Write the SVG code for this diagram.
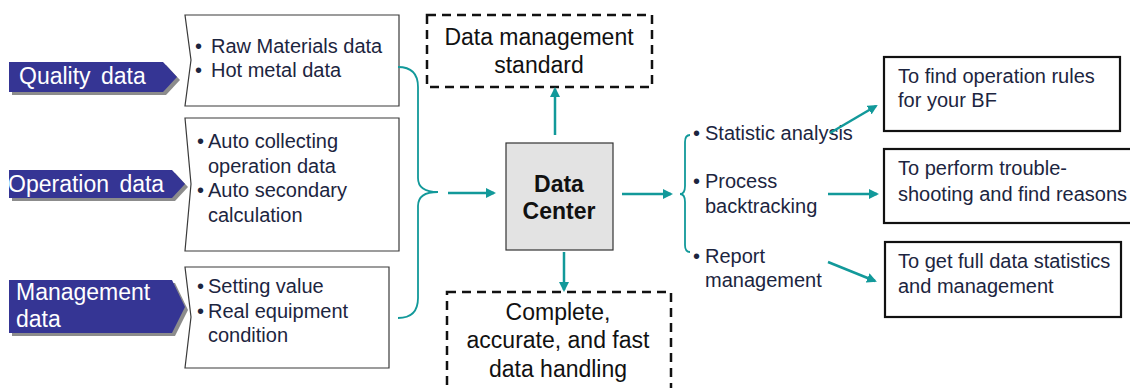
<svg xmlns="http://www.w3.org/2000/svg" width="1130" height="388" viewBox="0 0 1130 388">
<style>
text{font-family:"Liberation Sans",Arial,sans-serif;}
.tag{fill:#353594;}
.shadow{fill:#8c8c8c;}
.tagtxt{fill:#ffffff;font-size:23px;word-spacing:4px;}
.lbox{fill:#ffffff;stroke:#3a3a3a;stroke-width:1.2;}
.ltxt{fill:#1c2540;font-size:20px;}
.dash{fill:#ffffff;stroke:#111111;stroke-width:2.5;stroke-dasharray:9 6;}
.dtxt{fill:#111111;font-size:23px;text-anchor:middle;}
.rbox{fill:#ffffff;stroke:#111111;stroke-width:2.2;}
.rtxt{fill:#1c2540;font-size:20px;}
.con{fill:none;stroke:#12999a;stroke-width:2.5;}
.brace{fill:none;stroke:#12999a;stroke-width:1.8;}
</style>
<defs>
<marker id="ah" viewBox="0 0 10 10" refX="8" refY="5" markerWidth="4" markerHeight="4" orient="auto" markerUnits="strokeWidth">
<path d="M0,0 L10,5 L0,10 Z" fill="#12999a"/>
</marker>
</defs>

<g id="quality-data">
<polygon class="shadow" points="12,65 166,65 180,80 166,95 12,95"/>
<polygon class="tag" points="9,62 163,62 177,77 163,92 9,92"/>
<text class="tagtxt" x="19" y="84">Quality data</text>
</g>
<g id="operation-data">
<polygon class="shadow" points="12,173 175,173 188,187 175,201 12,201"/>
<polygon class="tag" points="9,170 172,170 185,184 172,198 9,198"/>
<text class="tagtxt" x="8" y="192">Operation data</text>
</g>
<g id="management-data">
<polygon class="shadow" points="12,283 175,283 188,310 175,336 12,336"/>
<polygon class="tag" points="9,280 172,280 185,307 172,333 9,333"/>
<text class="tagtxt" x="16" y="300">Management</text>
<text class="tagtxt" x="16" y="327">data</text>
</g>

<g id="quality-items">
<path class="lbox" d="M185,15 H399 V106 H185 L191,60 Z"/>
<text class="ltxt" x="195" y="53">•</text>
<text class="ltxt" x="211" y="53">Raw Materials data</text>
<text class="ltxt" x="195" y="77">•</text>
<text class="ltxt" x="211" y="77">Hot metal data</text>
</g>
<g id="operation-items">
<path class="lbox" d="M185,118 H399 V251 H185 L191,184 Z"/>
<text class="ltxt" x="197" y="148">•</text>
<text class="ltxt" x="208" y="148">Auto collecting</text>
<text class="ltxt" x="208" y="173">operation data</text>
<text class="ltxt" x="197" y="197">•</text>
<text class="ltxt" x="208" y="197">Auto secondary</text>
<text class="ltxt" x="208" y="222">calculation</text>
</g>
<g id="management-items">
<path class="lbox" d="M185,267 H389 V368 H185 L191,317 Z"/>
<text class="ltxt" x="197" y="293">•</text>
<text class="ltxt" x="208" y="293">Setting value</text>
<text class="ltxt" x="197" y="318">•</text>
<text class="ltxt" x="208" y="318">Real equipment</text>
<text class="ltxt" x="208" y="342">condition</text>
</g>

<g id="data-center">
<rect x="506" y="143" width="107" height="107" fill="#e3e3e3" stroke="#333333" stroke-width="1.2"/>
<text x="559" y="192" font-size="23" font-weight="bold" text-anchor="middle" fill="#111">Data</text>
<text x="559" y="219" font-size="23" font-weight="bold" text-anchor="middle" fill="#111">Center</text>
</g>

<g id="standard">
<rect class="dash" x="427" y="15" width="225" height="72"/>
<text class="dtxt" x="539" y="45">Data management</text>
<text class="dtxt" x="539" y="73">standard</text>
</g>

<g id="handling">
<rect class="dash" x="447" y="292" width="224" height="100"/>
<text class="dtxt" x="558" y="320">Complete,</text>
<text class="dtxt" x="558" y="348">accurate, and fast</text>
<text class="dtxt" x="558" y="377">data handling</text>
</g>

<g id="functions">
<text class="ltxt" x="693" y="140">•</text>
<text class="ltxt" x="705" y="140">Statistic analysis</text>
<text class="ltxt" x="693" y="188">•</text>
<text class="ltxt" x="705" y="188">Process</text>
<text class="ltxt" x="705" y="213">backtracking</text>
<text class="ltxt" x="693" y="263">•</text>
<text class="ltxt" x="705" y="263">Report</text>
<text class="ltxt" x="705" y="287">management</text>
</g>

<g id="rules">
<rect class="rbox" x="884" y="57" width="236" height="74"/>
<text class="rtxt" x="898" y="83">To find operation rules</text>
<text class="rtxt" x="898" y="107">for your BF</text>
</g>
<g id="troubleshooting">
<rect class="rbox" x="884" y="149" width="250" height="74"/>
<text class="rtxt" x="898" y="175">To perform trouble-</text>
<text class="rtxt" x="898" y="201">shooting and find reasons</text>
</g>
<g id="statistics">
<rect class="rbox" x="885" y="242" width="236" height="75"/>
<text class="rtxt" x="898" y="268">To get full data statistics</text>
<text class="rtxt" x="898" y="293">and management</text>
</g>

<g id="connectors">
<path class="brace" d="M398,67 Q418,67 418,87 V178 Q418,192 438,192 Q418,192 418,206 V298 Q418,318 398,318"/>
<path class="con" d="M448,193 H494" marker-end="url(#ah)"/>
<path class="con" d="M555,135 V89" marker-end="url(#ah)"/>
<path class="con" d="M564,252 V290" marker-end="url(#ah)"/>
<path class="con" d="M622,194 H671" marker-end="url(#ah)"/>
<path class="brace" d="M690,135 Q685,135 685,142 V186 Q685,194 680,194 Q685,194 685,202 V245 Q685,252 690,252"/>
<path class="con" d="M830,133 L876,106" marker-end="url(#ah)"/>
<path class="con" d="M828,194 H877" marker-end="url(#ah)"/>
<path class="con" d="M828,262 L875,281" marker-end="url(#ah)"/>
</g>
</svg>
